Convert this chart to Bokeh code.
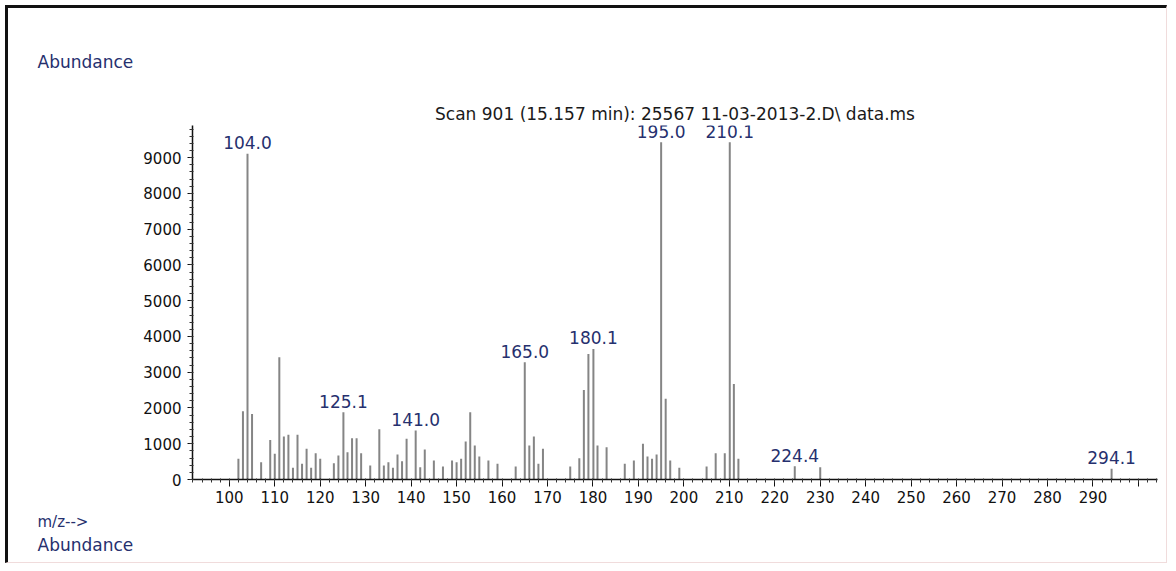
from bokeh.plotting import figure
from bokeh.models import ColumnDataSource, FixedTicker, Range1d, Title
from bokeh.core.properties import value
from bokeh.embed import file_html
from bokeh.resources import INLINE

# ---- data ----
mz = [102, 103, 104.0, 105, 107, 109, 110, 111, 112, 113, 114, 115, 116, 117, 118,
      119, 120, 123, 124, 125.1, 126, 127, 128, 129, 131, 133, 134, 135, 136, 137,
      138, 139, 141.0, 142, 143, 145, 147, 149, 150, 151, 152, 153, 154, 155, 157,
      159, 163, 165.0, 166, 167, 168, 169, 175, 177, 178, 179, 180.1, 181, 183, 187,
      189, 191, 192, 193, 194, 195.0, 196, 197, 199, 205, 207, 209, 210.1, 211, 212,
      224.4, 230, 294.1]
abundance = [578, 1910, 9110, 1835, 485, 1108, 717, 3420, 1200, 1248, 326, 1248, 438, 857, 326,
             736, 578, 456, 670, 1882, 764, 1155, 1155, 736, 391, 1407, 391, 485, 326, 699,
             513, 1137, 1370, 345, 838, 531, 363, 531, 485, 578, 1062, 1882, 950, 643, 531,
             438, 363, 3280, 950, 1200, 438, 857, 363, 597, 2505, 3510, 3650, 950, 904, 438,
             531, 997, 643, 578, 699, 9430, 2255, 531, 326, 363, 736, 736, 9430, 2674, 578,
             372, 345, 300]
peak_labels = ["104.0", "125.1", "141.0", "165.0", "180.1", "195.0", "210.1", "224.4", "294.1"]
x_ticks = list(range(100, 301, 10))
y_ticks = list(range(0, 9001, 1000))
title_text = "Scan 901 (15.157 min): 25567 11-03-2013-2.D\\ data.ms"

FONT = "DejaVu Sans"
NAVY = "#26306e"

bars = ColumnDataSource(data=dict(x=mz, y=abundance))
lab_x, lab_y, lab_t = [], [], []
for t in peak_labels:
    v = float(t)
    i = min(range(len(mz)), key=lambda k: abs(mz[k] - v))
    lab_x.append(mz[i]); lab_y.append(abundance[i]); lab_t.append(t)
labels = ColumnDataSource(data=dict(x=lab_x, y=lab_y, t=lab_t))

p = figure(width=1162, height=558, output_backend="svg", toolbar_location=None,
           x_range=Range1d(91.9, 304.2), y_range=Range1d(0, 9900),
           min_border_left=184, min_border_right=13, min_border_top=117, min_border_bottom=87)
p.styles = {"border-top": "3px solid #111", "border-left": "3px solid #111",
            "border-right": "1px solid #f0dcdc", "border-bottom": "1px solid #f0dcdc",
            "margin-left": "5px", "margin-top": "5px"}
p.outline_line_color = None
p.grid.visible = False
p.background_fill_color = "white"
p.border_fill_color = "white"

p.segment(x0="x", y0=0, x1="x", y1="y", source=bars, line_color="#858585", line_width=2)
p.text(x="x", y="y", text="t", source=labels, text_align="center", text_baseline="middle",
       y_offset=-11, text_font=value(FONT), text_font_size="17px", text_color=NAVY)

for ax in (p.xaxis[0], p.yaxis[0]):
    ax.axis_line_color = "#111"
    ax.axis_line_width = 1.5
    ax.major_tick_line_color = "#111"
    ax.minor_tick_line_color = "#333"
    ax.major_label_text_font = FONT
    ax.major_label_text_font_size = "15px"
    ax.major_label_text_color = "#111"

p.xaxis.ticker = FixedTicker(ticks=x_ticks, minor_ticks=list(range(92, 305, 2)))
p.xaxis.major_label_overrides = {300: ""}
p.xaxis.major_tick_out = 7
p.xaxis.major_tick_in = 0
p.xaxis.minor_tick_out = 3
p.xaxis.minor_tick_in = 1
p.xaxis.major_label_standoff = 4

p.yaxis.ticker = FixedTicker(ticks=y_ticks, minor_ticks=list(range(0, 9901, 200)))
p.yaxis.major_tick_out = 5
p.yaxis.major_tick_in = 0
p.yaxis.minor_tick_out = 3
p.yaxis.minor_tick_in = 1
p.yaxis.major_label_standoff = 6

p.title.text = ""

def add_title(txt, place, align="left", offset=0, standoff=0, size="15px", color=NAVY, lh=1.0):
    p.add_layout(Title(text=txt, align=align, offset=offset, standoff=standoff,
                       text_font=FONT, text_font_size=size, text_color=color,
                       text_font_style="normal", text_line_height=lh), place)

add_title(title_text, "above", align="center", offset=3, standoff=3, size="17px", color="#1a1a1a")
add_title("Abundance", "above", align="left", offset=-155, standoff=57, size="17px")
add_title("m/z-->", "below", align="left", offset=-155, standoff=10, size="15px", lh=0.8)
add_title("Abundance", "below", align="left", offset=-155, standoff=-6, size="17px")

open("out.html", "w").write(file_html(p, INLINE))
